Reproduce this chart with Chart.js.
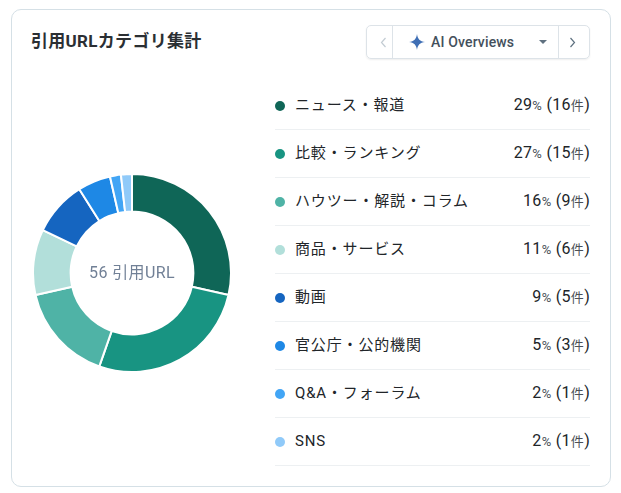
<!DOCTYPE html>
<html lang="ja">
<head>
<meta charset="utf-8">
<title>引用URLカテゴリ集計</title>
<script src="https://cdn.jsdelivr.net/npm/chart.js@4"></script>
<style>
    * { box-sizing: border-box; }
    html, body { margin: 0; padding: 0; width: 621px; height: 493px; background: #fff; overflow: hidden; }
    body { position: relative; font-family: Roboto, "Noto Sans CJK JP", sans-serif; color: #212529; }
    .card { position: absolute; left: 11px; top: 9px; width: 600px; height: 478px; border: 1px solid #d5e0e6; border-radius: 10px; background: #fff; }
    .title { position: absolute; left: 31px; top: 29px; font-size: 17px; line-height: 25px; font-weight: 700; letter-spacing: .3px; color: #2b2f33; white-space: nowrap; }
    .switcher { position: absolute; left: 366px; top: 25px; width: 224px; height: 34px; border: 1px solid #dde3e8; border-radius: 5px; box-shadow: 0 1px 2px rgba(0,0,0,.07); }
    .switcher span { position: absolute; white-space: nowrap; }
    .sep { top: 0; width: 1px; height: 32px; background: #dde3e8; }
    .model { left: 64px; top: 7px; font-size: 14px; line-height: 19px; font-weight: 500; letter-spacing: .15px; color: #44505c; }
    .caret { left: 172px; top: 14px; width: 0; height: 0; border-left: 4px solid transparent; border-right: 4px solid transparent; border-top: 4px solid #5f7180; }
    .switcher svg { position: absolute; }
    .donut { position: absolute; left: 32px; top: 173px; width: 200px; height: 200px; }
    .center { position: absolute; left: 32px; top: 261px; width: 200px; text-align: center; font-size: 16px; line-height: 24px; letter-spacing: .4px; color: #718096; white-space: nowrap; }
    .row { position: absolute; left: 275px; width: 315px; height: 48px; border-bottom: 1px solid #edf0f2; }
    .dot { position: absolute; left: 0; top: 19px; width: 10px; height: 10px; border-radius: 50%; }
    .name { position: absolute; left: 20px; top: 11px; font-size: 15px; line-height: 24px; letter-spacing: .85px; color: #212529; white-space: nowrap; }
    .val { position: absolute; right: 0; top: 11px; font-size: 16px; line-height: 24px; letter-spacing: .3px; color: #212529; white-space: nowrap; }
    .val small { font-size: 13px; color: #4a5056; }
</style>
</head>
<body>
<div class="card"></div>
<div class="title">引用URLカテゴリ集計</div>
<div class="switcher">
    <svg style="left:12px;top:10px" width="9" height="13" viewBox="0 0 9 13"><path d="M6.5 2 L2.5 6.5 L6.5 11" fill="none" stroke="#c3ccd3" stroke-width="1.2"/></svg>
    <span class="sep" style="left:25px"></span>
    <svg style="left:42px;top:8px" width="16" height="16" viewBox="0 0 16 16"><path d="M8 0 C8.6 5 11 7.4 16 8 C11 8.6 8.6 11 8 16 C7.4 11 5 8.6 0 8 C5 7.4 7.4 5 8 0 Z" fill="#3f6fb5"/></svg>
    <span class="model">AI Overviews</span>
    <span class="caret"></span>
    <span class="sep" style="left:191px"></span>
    <svg style="left:201px;top:10px" width="9" height="13" viewBox="0 0 9 13"><path d="M2.5 2 L6.5 6.5 L2.5 11" fill="none" stroke="#5f7180" stroke-width="1.2"/></svg>
</div>
<div class="donut"><canvas id="chart_category"></canvas></div>
<div class="center" id="center_label"></div>
<div id="legend"></div>
<script>
// 引用URLカテゴリ集計
const categories = ['ニュース・報道', '比較・ランキング', 'ハウツー・解説・コラム', '商品・サービス', '動画', '官公庁・公的機関', 'Q&A・フォーラム', 'SNS'];
const counts = [16, 15, 9, 6, 5, 3, 1, 1];
const percents = [29, 27, 16, 11, 9, 5, 2, 2];
const colors = ['#0f6657', '#189482', '#4fb3a6', '#b2dfda', '#1565c0', '#1e88e5', '#42a5f5', '#90caf9'];
const totalLabel = '56 引用URL';

document.getElementById('center_label').textContent = totalLabel;

const legend = document.getElementById('legend');
categories.forEach((name, i) => {
    const row = document.createElement('div');
    row.className = 'row';
    row.style.top = (82 + i * 48) + 'px';
    row.innerHTML = `<span class="dot" style="background:${colors[i]}"></span>` +
        `<span class="name"></span>` +
        `<span class="val">${percents[i]}<small>%</small> (${counts[i]}<small>件</small>)</span>`;
    row.querySelector('.name').textContent = name;
    legend.appendChild(row);
});

new Chart(document.getElementById('chart_category').getContext('2d'), {
    type: 'doughnut',
    data: { labels: categories, datasets: [{ data: counts, backgroundColor: colors, borderColor: '#fff', borderWidth: 2 }] },
    options: {
        responsive: true,
        maintainAspectRatio: false,
        animation: false,
        cutout: '62%',
        plugins: { legend: { display: false }, tooltip: { enabled: false } }
    }
});
</script>
</body>
</html>
